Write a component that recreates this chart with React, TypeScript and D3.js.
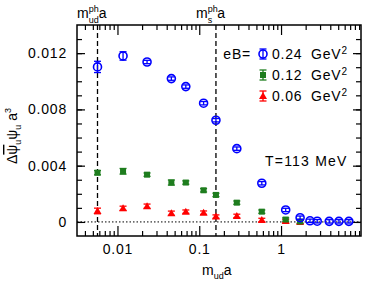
import React, { useEffect, useRef } from 'react';
import * as d3 from 'd3';

// quark mass values (m_ud a) for each ensemble
const massBlue = [0.0057, 0.0117, 0.023, 0.0456, 0.0685, 0.113, 0.16, 0.288, 0.582, 1.14, 1.71, 2.26, 2.77, 3.88, 5.1, 6.75];
const massOther = [0.0057, 0.0117, 0.023, 0.0456, 0.0685, 0.113, 0.16, 0.288, 0.582, 1.14, 1.71];

// eB = 0.24 GeV^2
const valBlue = [0.01102, 0.0118, 0.01137, 0.01019, 0.00962, 0.00844, 0.00723, 0.00521, 0.00275, 0.00085, 0.0003, 0.00008, 0.00005, 0.00004, 0.00004, 0.00004];
const errBlue = [0.0004, 0.0003, 0.00012, 0.00012, 0.0001, 0.0001, 0.0001, 0.0001, 0.0001, 0.0001, 0.00008, 0.00005, 0.00005, 0.00005, 0.00005, 0.00005];
// eB = 0.12 GeV^2
const valGreen = [0.0035, 0.0036, 0.00336, 0.0028, 0.0028, 0.00225, 0.00192, 0.00137, 0.00073, 0.00017, 0.00003];
const errGreen = [0.00015, 0.0002, 0.00012, 0.00018, 0.00012, 0.0001, 0.0001, 0.0001, 0.0001, 0.0001, 0.00005];
// eB = 0.06 GeV^2
const valRed = [0.00078, 0.00097, 0.00112, 0.00062, 0.00073, 0.00066, 0.00038, 0.00043, 0.00014, 0.00007, 0.0];
const errRed = [0.0002, 0.00015, 0.00015, 0.00015, 0.0001, 0.0001, 0.0001, 0.0001, 0.0001, 0.0001, 0.00005];

const legendLabels = ['0.24', '0.12', '0.06'];
const xTicks = [0.01, 0.1, 1];
const xTickLabels = ['0.01', '0.1', '1'];
const yTicks = [0, 0.004, 0.008, 0.012];
const yTickLabels = ['0', '0.004', '0.008', '0.012'];
const mudPhys = 0.0057;
const msPhys = 0.16;

const FONT = '"Liberation Sans", Arial, sans-serif';

const App: React.FC = () => {
  const svgRef = useRef<SVGSVGElement | null>(null);

  useEffect(() => {
    if (!svgRef.current) return;
    const svg = d3.select(svgRef.current);
    svg.selectAll('*').remove();

    const left = 77, right = 361, top = 25, bottom = 236;
    const x = d3.scaleLog().domain([0.0032, 9.5]).range([left, right]);
    const y = d3.scaleLinear().domain([-0.001, 0.014]).range([bottom, top]);

    // minor tick values
    const xMinor: number[] = [];
    for (const dec of [0.001, 0.01, 0.1, 1]) {
      for (let k = 2; k <= 9; k++) {
        const v = dec * k;
        if (v > 0.0032 && v < 9.5) xMinor.push(v);
      }
    }
    const yMinor = d3.range(-1, 14).map((i) => i * 0.001).filter((v) => v > -0.001);

    const axes = svg.append('g').attr('font-family', FONT);
    const styleAxis = (g: any) => {
      g.select('.domain').remove();
      g.selectAll('line').attr('stroke', '#000').attr('stroke-width', 1.2);
      g.selectAll('text').attr('font-size', 14).attr('fill', '#000').attr('font-family', FONT).attr('letter-spacing', 0.8);
    };

    // bottom
    axes.append('g').attr('transform', `translate(0,${bottom})`)
      .call(d3.axisBottom(x).tickValues(xTicks).tickSize(-10).tickPadding(8)
        .tickFormat((_, i) => xTickLabels[i]))
      .call(styleAxis);
    axes.append('g').attr('transform', `translate(0,${bottom})`)
      .call(d3.axisBottom(x).tickValues(xMinor).tickSize(-5).tickFormat(() => ''))
      .call(styleAxis);
    // top
    axes.append('g').attr('transform', `translate(0,${top})`)
      .call(d3.axisTop(x).tickValues(xTicks).tickSize(-10).tickFormat(() => ''))
      .call(styleAxis);
    axes.append('g').attr('transform', `translate(0,${top})`)
      .call(d3.axisTop(x).tickValues(xMinor).tickSize(-5).tickFormat(() => ''))
      .call(styleAxis);
    // left
    axes.append('g').attr('transform', `translate(${left},0)`)
      .call(d3.axisLeft(y).tickValues(yTicks).tickSize(-8).tickPadding(10)
        .tickFormat((_, i) => yTickLabels[i]))
      .call(styleAxis);
    axes.append('g').attr('transform', `translate(${left},0)`)
      .call(d3.axisLeft(y).tickValues(yMinor).tickSize(-5).tickFormat(() => ''))
      .call(styleAxis);
    // right
    axes.append('g').attr('transform', `translate(${right},0)`)
      .call(d3.axisRight(y).tickValues(yTicks).tickSize(-8).tickFormat(() => ''))
      .call(styleAxis);
    axes.append('g').attr('transform', `translate(${right},0)`)
      .call(d3.axisRight(y).tickValues(yMinor).tickSize(-5).tickFormat(() => ''))
      .call(styleAxis);

    // frame
    svg.append('rect')
      .attr('x', left).attr('y', top)
      .attr('width', right - left).attr('height', bottom - top)
      .attr('fill', 'none').attr('stroke', '#000').attr('stroke-width', 1.5);

    // zero line
    svg.append('line')
      .attr('x1', left).attr('x2', right).attr('y1', y(0)).attr('y2', y(0))
      .attr('stroke', '#000').attr('stroke-width', 1).attr('stroke-dasharray', '1.5,2');

    // physical mass lines
    for (const m of [mudPhys, msPhys]) {
      svg.append('line')
        .attr('x1', x(m)).attr('x2', x(m)).attr('y1', top).attr('y2', bottom)
        .attr('stroke', '#000').attr('stroke-width', 1.3).attr('stroke-dasharray', '5,3');
    }

    const series = [
      { m: massBlue, v: valBlue, e: errBlue, color: '#0000ff', shape: 'circle' },
      { m: massOther, v: valGreen, e: errGreen, color: '#1e7d1e', shape: 'square' },
      { m: massOther, v: valRed, e: errRed, color: '#ff0000', shape: 'triangle' },
    ];

    const drawMarker = (g: any, cx: number, cy: number, shape: string, color: string) => {
      if (shape === 'circle') {
        g.append('circle').attr('cx', cx).attr('cy', cy).attr('r', 4)
          .attr('fill', 'none').attr('stroke', color).attr('stroke-width', 1.6);
      } else if (shape === 'square') {
        g.append('rect').attr('x', cx - 3).attr('y', cy - 3).attr('width', 6).attr('height', 6)
          .attr('fill', color);
      } else {
        g.append('path').attr('d', `M${cx},${cy - 4}L${cx + 4},${cy + 3}L${cx - 4},${cy + 3}Z`)
          .attr('fill', color);
      }
    };

    const drawErr = (g: any, cx: number, y1: number, y2: number, color: string) => {
      g.append('line').attr('x1', cx).attr('x2', cx).attr('y1', y1).attr('y2', y2)
        .attr('stroke', color).attr('stroke-width', 1.3);
      for (const yy of [y1, y2]) {
        g.append('line').attr('x1', cx - 3.5).attr('x2', cx + 3.5).attr('y1', yy).attr('y2', yy)
          .attr('stroke', color).attr('stroke-width', 1.3);
      }
    };

    // draw red first, blue last so blue stays on top
    for (const s of [...series].reverse()) {
      const g = svg.append('g');
      s.m.forEach((m, i) => {
        const cx = x(m);
        const e = Math.max(s.e[i], 0.00012);
        drawErr(g, cx, y(s.v[i] + e), y(s.v[i] - e), s.color);
        drawMarker(g, cx, y(s.v[i]), s.shape, s.color);
      });
    }

    // legend
    const lg = svg.append('g').attr('font-family', FONT).attr('font-size', 14).attr('letter-spacing', 0.8);
    lg.append('text').attr('x', 251).attr('y', 59).attr('text-anchor', 'end').text('eB=');
    series.forEach((s, i) => {
      const cy = 54 + i * 21;
      drawErr(lg, 263, cy - 5, cy + 5, s.color);
      drawMarker(lg, 263, cy, s.shape, s.color);
      lg.append('text').attr('x', 272).attr('y', cy + 5).text(legendLabels[i]);
      const t = lg.append('text').attr('x', 311).attr('y', cy + 5).text('GeV');
      t.append('tspan').attr('font-size', 10).attr('dy', -5).text('2');
    });

    lg.append('text').attr('x', 265).attr('y', 166).attr('letter-spacing', 1.2).text('T=113 MeV');

    // top labels
    const lab = svg.append('g').attr('font-family', FONT).attr('font-size', 14);
    const top1 = lab.append('text').attr('x', 77).attr('y', 18);
    top1.append('tspan').text('m');
    top1.append('tspan').attr('font-size', 9).attr('dy', -6).text('ph');
    top1.append('tspan').attr('font-size', 9).attr('dx', -10).attr('dy', 11).text('ud');
    top1.append('tspan').attr('dy', -5).text('a');

    const top2 = lab.append('text').attr('x', 196).attr('y', 18);
    top2.append('tspan').text('m');
    top2.append('tspan').attr('font-size', 9).attr('dy', -6).text('ph');
    top2.append('tspan').attr('font-size', 9).attr('dx', -10).attr('dy', 11).text('s');
    top2.append('tspan').attr('dx', 5).attr('dy', -5).text('a');

    // x label
    const xl = lab.append('text').attr('x', 202).attr('y', 275);
    xl.append('tspan').text('m');
    xl.append('tspan').attr('font-size', 9).attr('dy', 4).text('ud');
    xl.append('tspan').attr('dy', -4).text('a');

    // y label
    const yl = lab.append('text').attr('transform', 'translate(17,164) rotate(-90)');
    yl.append('tspan').text('Δ');
    yl.append('tspan').style('text-decoration', 'overline').text('ψ');
    yl.append('tspan').attr('font-size', 9).attr('dy', 4).text('u');
    yl.append('tspan').attr('dy', -4).text('ψ');
    yl.append('tspan').attr('font-size', 9).attr('dy', 4).text('u');
    yl.append('tspan').attr('dy', -4).text(' a');
    yl.append('tspan').attr('font-size', 9).attr('dy', -6).text('3');
  }, []);

  return (
    <svg
      ref={svgRef}
      width={382}
      height={286}
      style={{ position: 'absolute', left: 0, top: 0, background: '#fff' }}
    />
  );
};

export default App;
